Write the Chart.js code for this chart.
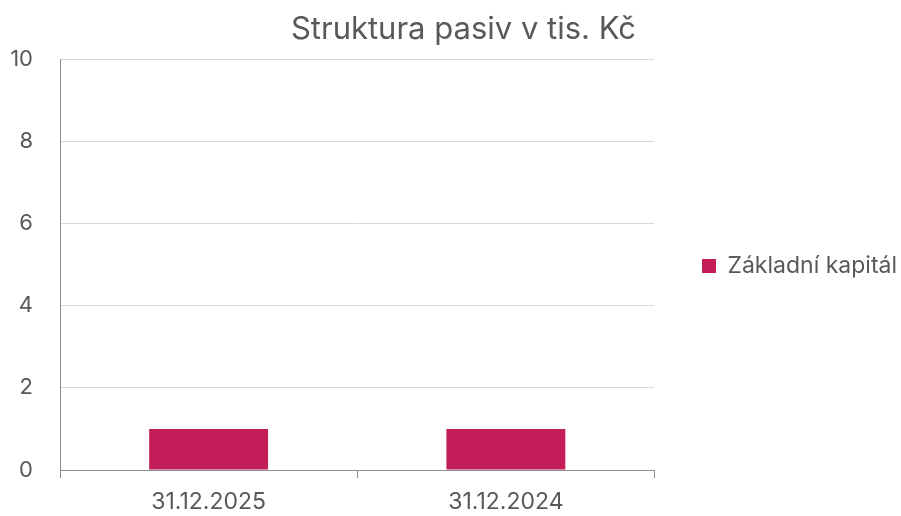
<!DOCTYPE html>
<html>
<head>
<meta charset="utf-8">
<script src="https://cdn.jsdelivr.net/npm/chart.js@4/dist/chart.umd.min.js"></script>
<style>
  html, body { margin: 0; padding: 0; background: #fff; }
  #wrap { width: 901px; height: 516px; }
</style>
</head>
<body>
<div id="wrap"><canvas id="chart" width="901" height="516"></canvas></div>
<script>
const titleText = 'Struktura pasiv v tis. Kč';
const categories = ['31.12.2025', '31.12.2024'];
const seriesName = 'Základní kapitál';
const seriesValues = [1, 1];
const yMax = 10;
const yStep = 2;

const textColor = '#595959';
const barColor = '#C41E5A';
const axisColor = '#8c8c8c';

Chart.defaults.font.family = 'Inter, "Noto Sans", sans-serif';
Chart.defaults.color = textColor;

// nudge title and legend boxes to where the reference has them
const nudgeBoxes = {
  id: 'nudgeBoxes',
  afterLayout(chart) {
    const t = chart.titleBlock;
    if (t) { t.left += 10; t.right += 10; }
    const l = chart.legend;
    if (l) { l.top += 8; l.bottom += 8; }
  },
};

const ctx = document.getElementById('chart').getContext('2d');
const chart = new Chart(ctx, {
  type: 'bar',
  data: {
    labels: categories,
    datasets: [{
      label: seriesName,
      data: seriesValues,
      backgroundColor: barColor,
      borderWidth: 0,
      categoryPercentage: 1,
      barPercentage: 0.4,
    }],
  },
  plugins: [nudgeBoxes],
  options: {
    responsive: false,
    animation: false,
    layout: { padding: { left: 0, right: -6, top: 0, bottom: 0 } },
    plugins: {
      title: {
        display: true,
        text: titleText,
        color: textColor,
        font: { size: 31, weight: 'normal' },
        padding: { top: 11.5, bottom: 10.3 },
      },
      legend: {
        position: 'right',
        maxWidth: 300,
        labels: {
          boxWidth: 14,
          boxHeight: 14,
          padding: 47.5,
          color: textColor,
          font: { size: 23 },
        },
      },
      tooltip: { enabled: false },
    },
    scales: {
      x: {
        afterFit: (scale) => { scale.height = 46; },
        grid: {
          offset: true,
          drawOnChartArea: false,
          drawTicks: true,
          tickLength: 8,
          color: axisColor,
        },
        border: { display: true, color: axisColor, width: 1 },
        ticks: { padding: 10.2, color: textColor, font: { size: 23 } },
      },
      y: {
        min: 0,
        max: yMax,
        afterFit: (scale) => { scale.width = 60; },
        grid: { color: '#d9d9d9', drawTicks: false },
        border: { display: true, color: axisColor, width: 1 },
        ticks: { stepSize: yStep, padding: 27, color: textColor, font: { size: 22 } },
      },
    },
  },
});
</script>
</body>
</html>
